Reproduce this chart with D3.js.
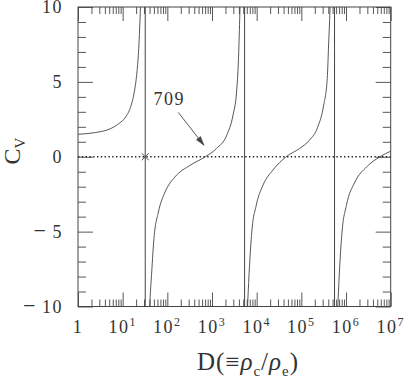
<!DOCTYPE html>
<html>
<head>
<meta charset="utf-8">
<script src="https://cdn.jsdelivr.net/npm/d3@7"></script>
<style>
  body { margin: 0; background: #fff; }
  text { font-family: "Liberation Serif", "DejaVu Serif", serif; fill: #333; }
</style>
</head>
<body>
<div id="root"></div>
<script>
const width = 409;
const height = 381;
const margin = {left: 78, right: 18.3, top: 7, bottom: 74.5};

// C_V against density contrast D, one array per branch
const branchA = [[1, 1.50], [2.5, 1.62], [5.0, 1.84], [8.3, 2.22], [11.7, 2.66], [15.5, 3.44],
                 [18.2, 4.33], [20.9, 5.67], [22.9, 7.24], [24.5, 9.24], [25.7, 11.0]];
const branchB = [[38, -12], [40.7, -9.71], [44.7, -7.7], [50.1, -5.47], [63.1, -3.69], [89.1, -2.35],
                 [148, -1.35], [324, -0.57], [709, 0], [1259, 0.55], [2138, 1.44], [2951, 2.78],
                 [3548, 4.33], [3890, 6.34], [4169, 9.24], [4365, 11.5]];
const branchC = [[5890, -12], [6310, -9.71], [6918, -7.26], [7762, -5.03], [9772, -3.24], [13800, -1.91],
                 [22900, -0.90], [45700, 0], [91200, 0.55], [151000, 1.10], [234000, 2.0], [316000, 3.44],
                 [380000, 5.23], [407000, 7.46], [437000, 9.8], [452000, 11.5]];
const branchD = [[617000, -12], [661000, -9.71], [724000, -7.26], [813000, -5.03], [1.02e6, -3.24],
                 [1.58e6, -1.69], [2.88e6, -0.68], [5.75e6, 0], [1e7, 0.37]];

// asymptotes (C_V -> infinity) and the marked point
const asymptotes = [32, 5360, 5.53e5];
const crossPoint = [32, 0];

// annotation: label at D=110, arrow to the zero at 709
const noteText = "709";
const noteLabel = [110, 3.44];
const noteTail = [176, 2.96];
const noteTip = [661, 0.77];

const xDomain = [1, 1e7];
const yDomain = [-10, 10];
const xMajor = [1, 10, 100, 1e3, 1e4, 1e5, 1e6, 1e7];
const xExponents = ["", "1", "2", "3", "4", "5", "6", "7"];
const yMajor = [-10, -5, 0, 5, 10];

const lineColor = "#444";

const svg = d3.select("#root").append("svg")
  .attr("width", width)
  .attr("height", height);

const w = width - margin.left - margin.right;
const h = height - margin.top - margin.bottom;

const x = d3.scaleLog().domain(xDomain).range([margin.left, margin.left + w]);
const y = d3.scaleLinear().domain(yDomain).range([margin.top + h, margin.top]);

svg.append("defs").append("clipPath")
  .attr("id", "plotclip")
  .append("rect")
    .attr("x", margin.left).attr("y", margin.top)
    .attr("width", w).attr("height", h);

// ticks: minor and major, inward on all four sides
const xMinor = [];
for (let k = 0; k < 7; k++) {
  for (let m = 2; m <= 9; m++) xMinor.push(m * Math.pow(10, k));
}
const yMinor = d3.range(-10, 11, 1).filter(d => d % 5 !== 0);

function addAxis(axis, tx, ty) {
  const g = svg.append("g")
    .attr("transform", `translate(${tx},${ty})`)
    .call(axis);
  g.select(".domain").remove();
  g.selectAll("text").remove();
  g.selectAll("line").attr("stroke", lineColor).attr("stroke-width", 0.9);
}

addAxis(d3.axisBottom(x).tickValues(xMinor).tickSize(-7).tickFormat(""), 0, margin.top + h);
addAxis(d3.axisBottom(x).tickValues(xMajor).tickSize(-14).tickFormat(""), 0, margin.top + h);
addAxis(d3.axisTop(x).tickValues(xMinor).tickSize(-7).tickFormat(""), 0, margin.top);
addAxis(d3.axisTop(x).tickValues(xMajor).tickSize(-14).tickFormat(""), 0, margin.top);
addAxis(d3.axisLeft(y).tickValues(yMinor).tickSize(-8).tickFormat(""), margin.left, 0);
addAxis(d3.axisLeft(y).tickValues(yMajor).tickSize(-15).tickFormat(""), margin.left, 0);
addAxis(d3.axisRight(y).tickValues(yMinor).tickSize(-8).tickFormat(""), margin.left + w, 0);
addAxis(d3.axisRight(y).tickValues(yMajor).tickSize(-15).tickFormat(""), margin.left + w, 0);

// frame
svg.append("rect")
  .attr("x", margin.left).attr("y", margin.top)
  .attr("width", w).attr("height", h)
  .attr("fill", "none")
  .attr("stroke", lineColor)
  .attr("stroke-width", 1);

// tick labels
const xLabels = svg.append("g").selectAll("text")
  .data(xMajor).enter()
  .append("text")
    .attr("x", d => x(d))
    .attr("y", margin.top + h + 26)
    .attr("text-anchor", "middle")
    .style("font-size", "18px")
    .style("letter-spacing", "1.5px");

xLabels.each(function(d, i) {
  const t = d3.select(this);
  if (xExponents[i] === "") {
    t.text("1");
  } else {
    t.append("tspan").text("10");
    t.append("tspan")
      .attr("dy", -7)
      .style("font-size", "12px")
      .text(xExponents[i]);
  }
});

const yLabels = svg.append("g").selectAll("text")
  .data(yMajor).enter()
  .append("text")
    .attr("x", margin.left - 15)
    .attr("y", d => y(d))
    .attr("dy", "0.35em")
    .attr("text-anchor", "end")
    .style("font-size", "18px")
    .style("letter-spacing", "1.5px");

yLabels.each(function(d) {
  const t = d3.select(this);
  if (d < 0) {
    t.append("tspan").style("font-size", "22px").text("\u2212");
    t.append("tspan").text("\u2009" + Math.abs(d));
  } else {
    t.text(d);
  }
});

// plot contents
const plot = svg.append("g").attr("clip-path", "url(#plotclip)");

plot.append("line")
  .attr("x1", x(xDomain[0])).attr("x2", x(xDomain[1]))
  .attr("y1", y(0)).attr("y2", y(0))
  .attr("stroke", "#222")
  .attr("stroke-width", 1.4)
  .attr("stroke-dasharray", "1.4,2.4");

plot.selectAll(".asym")
  .data(asymptotes).enter()
  .append("line")
    .attr("class", "asym")
    .attr("x1", d => x(d)).attr("x2", d => x(d))
    .attr("y1", margin.top).attr("y2", margin.top + h)
    .attr("stroke", lineColor)
    .attr("stroke-width", 1);

const line = d3.line()
  .x(d => x(d[0]))
  .y(d => y(d[1]))
  .curve(d3.curveMonotoneX);

plot.selectAll(".branch")
  .data([branchA, branchB, branchC, branchD]).enter()
  .append("path")
    .attr("class", "branch")
    .attr("d", line)
    .attr("fill", "none")
    .attr("stroke", lineColor)
    .attr("stroke-width", 0.9);

// the cross
const cx = x(crossPoint[0]);
const cy = y(crossPoint[1]);
const cs = 3.5;
svg.append("path")
  .attr("d", `M${cx - cs},${cy - cs}L${cx + cs},${cy + cs}M${cx - cs},${cy + cs}L${cx + cs},${cy - cs}`)
  .attr("stroke", lineColor)
  .attr("stroke-width", 0.9);

// annotation
svg.append("text")
  .attr("x", x(noteLabel[0]))
  .attr("y", y(noteLabel[1]))
  .attr("text-anchor", "middle")
  .style("font-size", "18px")
  .style("letter-spacing", "1.5px")
  .text(noteText);

const ax0 = x(noteTail[0]), ay0 = y(noteTail[1]);
const ax1 = x(noteTip[0]), ay1 = y(noteTip[1]);
svg.append("line")
  .attr("x1", ax0).attr("y1", ay0)
  .attr("x2", ax1).attr("y2", ay1)
  .attr("stroke", lineColor)
  .attr("stroke-width", 0.9);

const ang = Math.atan2(ay1 - ay0, ax1 - ax0);
const headLen = 9, headHalf = 2.6;
const bx = ax1 - headLen * Math.cos(ang), by = ay1 - headLen * Math.sin(ang);
const px = -Math.sin(ang) * headHalf, py = Math.cos(ang) * headHalf;
svg.append("path")
  .attr("d", `M${ax1},${ay1}L${bx + px},${by + py}L${bx - px},${by - py}Z`)
  .attr("fill", lineColor)
  .attr("stroke", lineColor)
  .attr("stroke-width", 0.6);

// axis titles
const xTitle = svg.append("text")
  .attr("x", 248)
  .attr("y", 370)
  .attr("text-anchor", "middle")
  .style("font-size", "25px")
  .style("letter-spacing", "1px");
xTitle.append("tspan").text("D(\u2261");
xTitle.append("tspan").style("font-style", "italic").text("\u03c1");
xTitle.append("tspan").attr("dy", 6).style("font-size", "15px").text("c");
xTitle.append("tspan").attr("dy", -6).text("/");
xTitle.append("tspan").style("font-style", "italic").text("\u03c1");
xTitle.append("tspan").attr("dy", 6).style("font-size", "15px").text("e");
xTitle.append("tspan").attr("dy", -6).text(")");

const yTitle = svg.append("text")
  .attr("transform", `translate(20, 151) rotate(-90)`)
  .attr("text-anchor", "middle")
  .style("font-size", "24px");
yTitle.append("tspan").text("C");
yTitle.append("tspan").attr("dy", 5).style("font-size", "15px").text("V");
</script>
</body>
</html>
